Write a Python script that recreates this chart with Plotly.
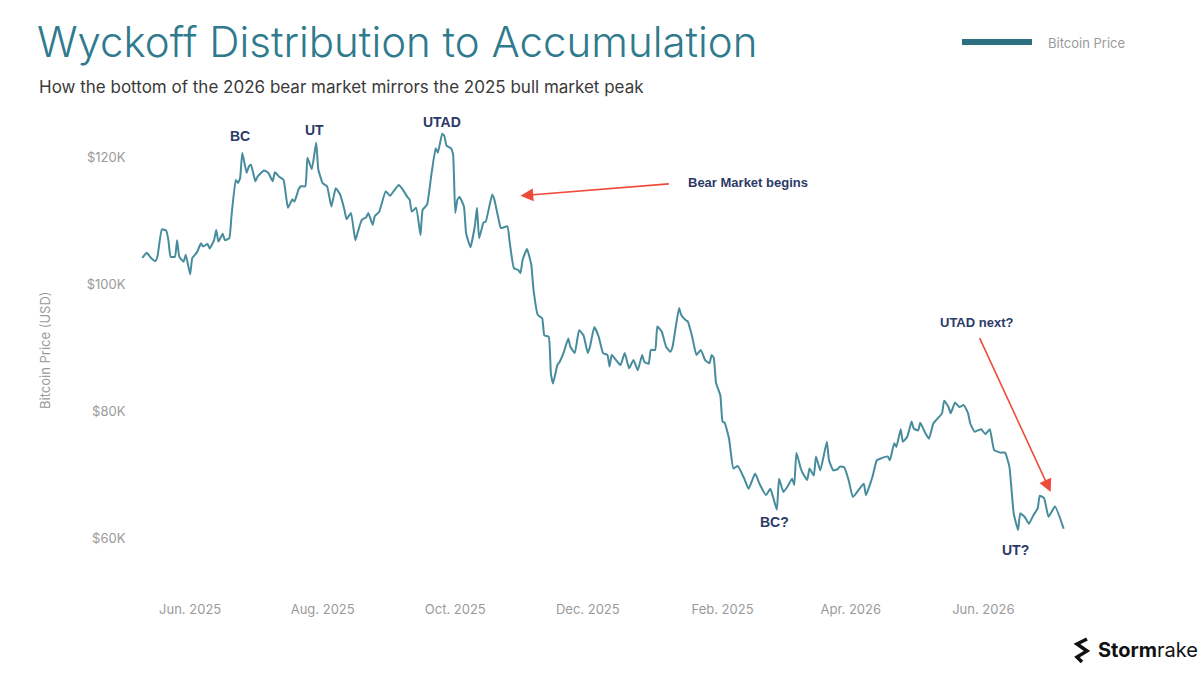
import pandas as pd
import plotly.graph_objects as go

# ---------------- data ----------------
start_date = "2025-05-10"
day_offsets = [0,2,4,6,7,9,11,12,13,15,16,17,19,20,22,23,25,27,28,30,31,33,34,35,37,38,40,41,43,44,45,46,48,49,50,52,53,56,58,60,61,63,65,67,69,70,72,73,75,76,78,80,81,83,85,87,89,91,93,94,96,98,99,101,103,104,106,107,109,112,114,116,118,120,122,123,124,126,128,129,131,133,135,136,138,139,140,142,143,144,145,146,148,149,151,153,154,155,157,158,161,162,164,165,168,169,171,173,174,175,177,179,180,182,184,185,187,188,189,191,192,194,196,197,199,201,203,205,206,208,210,212,214,215,216,218,220,222,224,226,228,230,231,233,234,236,237,239,241,243,244,247,248,250,251,253,255,257,259,261,262,263,264,266,267,268,270,272,274,277,279,282,284,287,289,290,292,293,295,297,299,300,301,303,304,306,307,309,310,312,315,316,318,320,321,323,325,327,330,332,333,336,338,340,343,344,346,347,349,350,352,354,355,357,358,360,362,364,366,368,369,371,372,374,376,378,380,381,383,386,388,390,392,395,397,399,401,403,404,406,408,410,412,413,415,417,420,424]
price_k = [104.2,105.0,104.2,103.7,104.5,108.7,108.5,107.0,104.4,104.4,107.0,104.4,103.6,104.7,101.6,104.2,105.0,106.5,106.0,106.4,105.7,107.0,108.6,106.8,108.0,107.0,107.3,110.7,116.5,116.0,116.8,120.8,117.6,118.6,118.9,116.3,117.0,118.0,117.6,116.3,117.7,117.0,116.5,112.1,113.4,113.1,115.1,115.5,115.5,120.0,118.2,122.4,118.1,116.0,115.5,112.3,115.2,114.2,111.8,110.3,111.3,107.0,108.1,110.2,110.6,111.3,109.4,110.8,111.5,114.7,114.0,114.9,115.7,114.9,113.8,113.4,111.5,112.1,107.8,111.8,112.6,117.3,121.5,120.8,123.8,123.4,121.9,121.5,120.5,111.3,113.4,113.8,112.3,108.1,105.9,109.2,112.1,107.3,109.8,109.9,114.2,113.4,110.2,108.9,109.2,106.8,102.6,102.3,101.8,103.9,105.6,103.1,99.2,95.2,94.7,92.0,91.8,86.0,84.4,87.3,87.8,89.4,91.5,90.2,89.2,92.8,92.0,89.2,90.2,93.3,91.8,89.2,88.9,87.1,88.9,88.1,87.3,89.2,86.8,88.1,86.5,88.9,87.8,87.5,89.7,89.7,93.4,92.6,90.2,89.4,90.2,96.3,95.2,94.4,94.2,91.8,88.9,89.7,88.1,87.6,88.9,88.4,84.5,82.5,78.4,78.2,75.7,71.0,71.4,69.4,67.8,70.2,68.6,66.8,67.8,66.8,64.5,69.4,67.3,68.2,69.4,68.4,73.5,71.0,70.2,69.2,71.0,69.9,72.9,70.7,75.2,72.3,70.7,70.9,71.3,71.2,69.2,66.5,67.8,68.6,66.8,69.7,72.3,72.6,72.9,72.3,75.0,74.4,77.2,75.2,76.0,78.4,77.3,77.0,78.2,76.8,75.7,78.1,78.9,79.7,81.7,80.7,79.7,81.4,80.7,81.0,79.7,78.1,76.8,77.2,76.4,77.2,73.9,73.5,73.5,71.3,63.9,61.3,63.9,63.4,62.3,63.6,64.7,66.7,66.3,63.4,65.0,61.5]

x_tick_dates = ["2025-06-01", "2025-08-01", "2025-10-01", "2025-12-01", "2026-02-01", "2026-04-01", "2026-06-01"]
x_tick_labels = ["Jun. 2025", "Aug. 2025", "Oct. 2025", "Dec. 2025", "Feb. 2025", "Apr. 2026", "Jun. 2026"]
y_tick_vals = [60, 80, 100, 120]
y_tick_labels = ["$60K", "$80K", "$100K", "$120K"]

# phase labels: (date, price_k, text)
phase_dates = ["2025-06-24", "2025-07-28", "2025-09-25", "2026-02-25", "2026-06-16"]
phase_prices = [123.5, 124.4, 125.7, 62.5, 58.1]
phase_texts = ["BC", "UT", "UTAD", "BC?", "UT?"]

dates = pd.to_datetime(start_date) + pd.to_timedelta(day_offsets, unit="D")

LINE = "#468c9c"
NAVY = "#2c3a68"
RED = "#ef4b3a"
GRAY = "#9a9a9a"

fig = go.Figure()
fig.add_trace(go.Scatter(x=dates, y=price_k, mode="lines", name="Bitcoin Price",
                         line=dict(color=LINE, width=2, shape="spline", smoothing=0.4),
                         showlegend=False))

annotations = []
for d, p, t in zip(phase_dates, phase_prices, phase_texts):
    annotations.append(dict(x=d, y=p, xref="x", yref="y", text=f"<b>{t}</b>", showarrow=False,
                            font=dict(family="Liberation Sans, Arial", size=14, color=NAVY)))

# Bear market arrow + text
annotations.append(dict(x="2025-10-31", y=114.0, ax="2026-01-08", ay=115.9, xref="x", yref="y",
                        axref="x", ayref="y", text="", showarrow=True, arrowhead=2, arrowsize=1.6,
                        arrowwidth=1.6, arrowcolor=RED))
annotations.append(dict(x="2026-01-15", y=116.1, xref="x", yref="y", xanchor="left",
                        text="<b>Bear Market begins</b>", showarrow=False,
                        font=dict(family="Liberation Sans, Arial", size=13, color=NAVY)))
# UTAD next arrow + text
annotations.append(dict(x="2026-07-02", y=67.3, ax="2026-05-30", ay=91.8, xref="x", yref="y",
                        axref="x", ayref="y", text="", showarrow=True, arrowhead=2, arrowsize=1.6,
                        arrowwidth=1.6, arrowcolor=RED))
annotations.append(dict(x="2026-05-29", y=94.0, xref="x", yref="y",
                        text="<b>UTAD next?</b>", showarrow=False,
                        font=dict(family="Liberation Sans, Arial", size=13, color=NAVY)))

L, R, T, B = 135, 120, 107, 86
PW, PH = 1200 - L - R, 675 - T - B
def px(x):
    return (x - L) / PW
def py(y):
    return (675 - B - y) / PH

annotations.append(dict(x=px(37), y=py(87), xref="paper", yref="paper", xanchor="left", yanchor="middle",
                        text="How the bottom of the 2026 bear market mirrors the 2025 bull market peak",
                        showarrow=False, font=dict(family="Inter", size=17, color="#3a3a3a")))
annotations.append(dict(x=px(45), y=py(350), xref="paper", yref="paper", textangle=-90,
                        xanchor="center", yanchor="middle",
                        text="Bitcoin Price (USD)", showarrow=False,
                        font=dict(family="Inter", size=13, color=GRAY)))
annotations.append(dict(x=px(1046), y=py(43), xref="paper", yref="paper", xanchor="left", yanchor="middle",
                        text="Bitcoin Price", showarrow=False,
                        font=dict(family="Inter", size=13, color=GRAY)))
annotations.append(dict(x=px(1096), y=py(650), xref="paper", yref="paper", xanchor="left", yanchor="middle",
                        text="<b>Storm</b>rake", showarrow=False,
                        font=dict(family="Inter", size=20, color="#111111")))

shapes = [dict(type="line", xref="paper", yref="paper", x0=px(962), x1=px(1032), y0=py(42), y1=py(42),
               line=dict(color="#2b6f80", width=6)),
          dict(type="path", xref="paper", yref="paper",
               path=f"M {px(1087)} {py(639)} L {px(1077)} {py(644)} L {px(1087)} {py(651)} L {px(1077)} {py(657)} L {px(1082)} {py(662)}",
               line=dict(color="#111111", width=3.5))]

fig.update_layout(
    width=1200, height=675,
    paper_bgcolor="white", plot_bgcolor="white",
    margin=dict(l=L, r=R, t=T, b=B),
    title=dict(text="Wyckoff Distribution to Accumulation", x=37/1200, xanchor="left",
               xref="container", yref="container", y=1 - 42/675, yanchor="middle",
               font=dict(family="Inter", size=42, color="#2f7a8d", weight=300)),
    xaxis=dict(range=["2025-05-06 15:00", "2026-07-15 12:00"], tickvals=x_tick_dates,
               ticktext=x_tick_labels, showgrid=False, zeroline=False, showline=False,
               ticks="outside", ticklen=8, tickcolor="rgba(0,0,0,0)",
               tickfont=dict(family="Inter", size=13, color=GRAY)),
    yaxis=dict(range=[52, 128], tickvals=y_tick_vals, ticktext=y_tick_labels, showgrid=False,
               zeroline=False, showline=False, ticks="outside", ticklen=6,
               tickcolor="rgba(0,0,0,0)", tickfont=dict(family="Inter", size=13, color=GRAY)),
    annotations=annotations,
    shapes=shapes,
    showlegend=False,
)

fig.write_html("out.html")
